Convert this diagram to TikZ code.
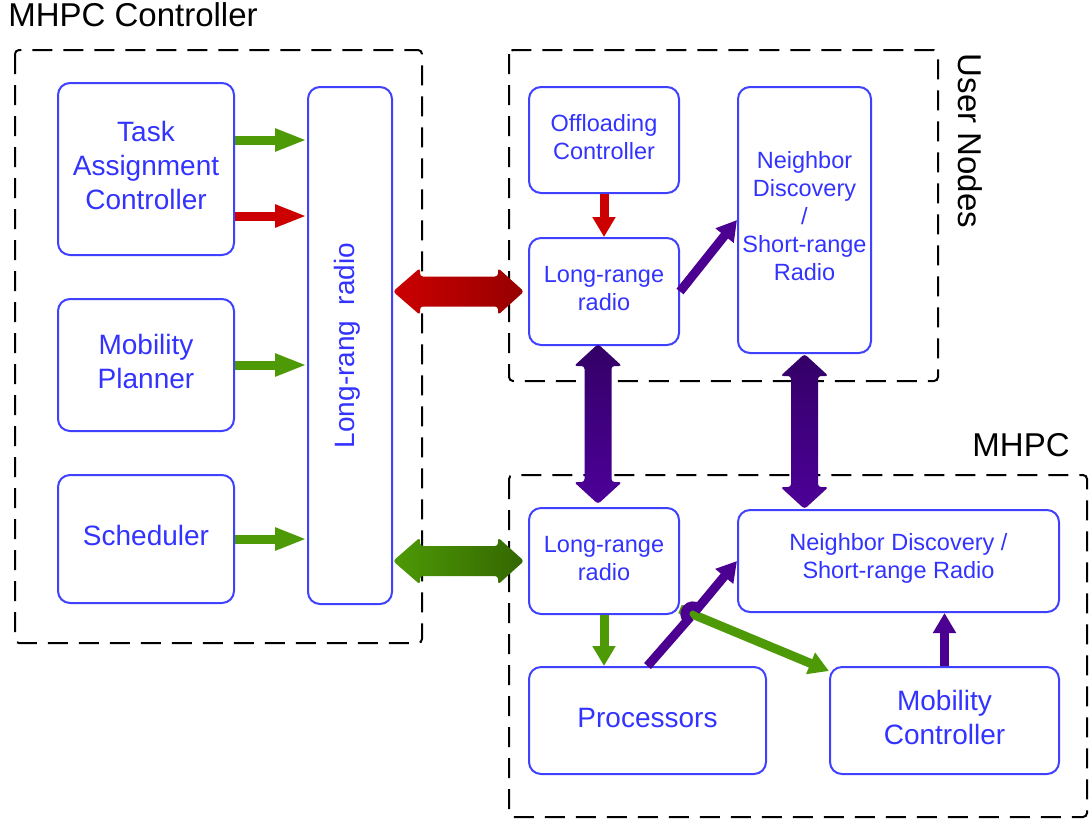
\documentclass[tikz,border=0pt]{standalone}
\usepackage{fontspec}
\setmainfont{Liberation Sans}
\usetikzlibrary{arrows.meta,calc}
\definecolor{boxblue}{RGB}{64,64,255}
\definecolor{txtblue}{RGB}{51,51,255}
\definecolor{agreen}{RGB}{78,154,6}
\definecolor{agreend}{RGB}{51,102,0}
\definecolor{ared}{RGB}{204,0,0}
\definecolor{aredd}{RGB}{150,0,0}
\definecolor{apurple}{RGB}{75,0,145}
\definecolor{apurpled}{RGB}{51,0,102}
\definecolor{apurplel}{RGB}{77,0,153}
\newcommand\fatH[3]{\shade[#3, rounded corners=1.5pt] let \p1=(#1), \p2=(#2) in
 (\x1,\y1) -- (\x1+13.5pt,\y1+11.75pt) -- (\x1+13.5pt,\y1+7.5pt) -- (\x2-13pt,\y1+7.5pt) -- (\x2-13pt,\y1+11.75pt) -- (\x2,\y1) -- (\x2-13pt,\y1-11.75pt) -- (\x2-13pt,\y1-7.5pt) -- (\x1+13.5pt,\y1-7.5pt) -- (\x1+13.5pt,\y1-11.75pt) -- cycle;}
\newcommand\fatV[3]{\shade[#3, rounded corners=1.5pt] let \p1=(#1), \p2=(#2) in
 (\x1,\y1) -- (\x1+12pt,\y1-11pt) -- (\x1+6.75pt,\y1-11pt) -- (\x1+6.75pt,\y2+11pt) -- (\x1+12pt,\y2+11pt) -- (\x1,\y2) -- (\x1-12pt,\y2+11pt) -- (\x1-6.75pt,\y2+11pt) -- (\x1-6.75pt,\y1-11pt) -- (\x1-12pt,\y1-11pt) -- cycle;}
\begin{document}
\begin{tikzpicture}[x=0.5pt,y=-0.5pt,
 blk/.style={draw=boxblue, line width=1pt, rounded corners=6pt, inner sep=0pt},
 txt/.style={text=txtblue, align=center, inner sep=0pt},
 bigtxt/.style={txt, font=\fontsize{14}{17}\selectfont},
 smalltxt/.style={txt, font=\fontsize{11.75}{14}\selectfont},
 grp/.style={draw=black, line width=1pt, dash pattern=on 10pt off 5.5pt, rounded corners=2pt},
 thinarrow/.style={line width=4.5pt, -{Triangle[length=10pt,width=11pt]}},
 longarrow/.style={line width=4.5pt, -{Triangle[length=16pt,width=10.5pt]}},
 ttl/.style={font=\fontsize{16.5}{20}\selectfont, inner sep=0pt}]

\useasboundingbox (0,0) rectangle (1090,820);

% group boxes
\draw[grp] (15,50) rectangle (422,643);
\draw[grp] (509,50) rectangle (938,381);
\draw[grp] (509,475) rectangle (1087,817);

% titles
\node[ttl] (t1) at (133,15) {MHPC Controller};
\node[ttl, rotate=-90] (t2) at (970,141) {User Nodes};
\node[ttl] (t3) at (1021,445) {MHPC};

% MHPC controller blocks
\node[blk, minimum width=88pt, minimum height=86pt] (tac) at (146,169) {};
\node[bigtxt] (tacT) at ([yshift=1.75pt]tac.center) {Task\\Assignment\\Controller};
\node[blk, minimum width=88pt, minimum height=66pt] (mp) at (146,365) {};
\node[bigtxt] (mpT) at ([yshift=1.75pt]mp.center) {Mobility\\Planner};
\node[blk, minimum width=88pt, minimum height=64pt] (sch) at (146,539) {};
\node[bigtxt] (schT) at ([yshift=1.75pt]sch.center) {Scheduler};
\node[blk, minimum width=42pt, minimum height=258.5pt] (lrr) at (350,345.5) {};
\node[bigtxt, rotate=90] (lrrT) at (347.5,345.5) {Long-rang~ radio};

% user nodes
\node[blk, minimum width=75pt, minimum height=53pt] (oc) at (604,140) {};
\node[smalltxt] (ocT) at ([yshift=1.5pt]oc.center) {Offloading\\Controller};
\node[blk, minimum width=75pt, minimum height=53.5pt] (lr1) at (604,291.5) {};
\node[smalltxt] (lr1T) at ([yshift=1.5pt]lr1.center) {Long-range\\radio};
\node[blk, minimum width=66.5pt, minimum height=133pt] (nd1) at (804.5,220) {};
\node[smalltxt] (nd1T) at ([yshift=1.75pt]nd1.center) {Neighbor\\Discovery\\/\\Short-range\\Radio};

% MHPC
\node[blk, minimum width=75pt, minimum height=53pt] (lr2) at (604,561) {};
\node[smalltxt] (lr2T) at ([yshift=1.25pt]lr2.center) {Long-range\\radio};
\node[blk, minimum width=160.5pt, minimum height=51pt] (nd2) at (898.5,561) {};
\node[smalltxt] (nd2T) at ([yshift=1.25pt]nd2.center) {Neighbor Discovery /\\Short-range Radio};
\node[blk, minimum width=118.5pt, minimum height=53.5pt] (procs) at (647.5,720.5) {};
\node[bigtxt] (procsT) at ([yshift=1.25pt]procs.center) {Processors};
\node[blk, minimum width=114.5pt, minimum height=53.5pt] (mc) at (944.5,720.5) {};
\node[bigtxt] (mcT) at ([yshift=1.75pt]mc.center) {Mobility\\Controller};

% thin arrows, controller side
\coordinate (a1) at ([yshift=14.5pt]tac.east);
\coordinate (a2) at ([yshift=-23.5pt]tac.east);
\draw[longarrow, agreen] (a1) -- (a1 -| lrr.west);
\draw[longarrow, ared] (a2) -- (a2 -| lrr.west);
\draw[longarrow, agreen] (mp.east) -- (mp.east -| lrr.west);
\draw[longarrow, agreen] (sch.east) -- (sch.east -| lrr.west);

% user node arrows
\draw[thinarrow, ared] (oc.south) -- (lr1.north);
\draw[thinarrow, apurple] (lr1.east) -- (nd1.west);

% MHPC arrows
\draw[thinarrow, agreen] (lr2.south) -- (lr2.south |- procs.north);
\draw[thinarrow, agreen] ([yshift=3pt]lr2.south east) -- ([yshift=-2.5pt]mc.north west);
\coordinate (hop) at (687.7,620.0);
\draw[thinarrow, apurple] (procs.north) -- (hop) arc[start angle=229.5, end angle=49.5, radius=4pt] -- (nd2.west);
\draw[thinarrow, apurple] (mc.north) -- (mc.north |- nd2.south);

% fat double arrows
\fatH{lrr.east |- lr1.west}{[xshift=-2pt]lr1.west}{left color=ared, right color=aredd}
\fatH{lrr.east |- lr2.west}{[xshift=-2pt]lr2.west}{left color=agreen, right color=agreend}
\fatV{[xshift=-3pt,yshift=1pt]lr1.south}{[xshift=-3pt,yshift=1.5pt]lr2.north}{top color=apurpled, bottom color=apurplel}
\fatV{nd1.south}{nd1.south |- nd2.north}{top color=apurpled, bottom color=apurplel}
\end{tikzpicture}
\end{document}
